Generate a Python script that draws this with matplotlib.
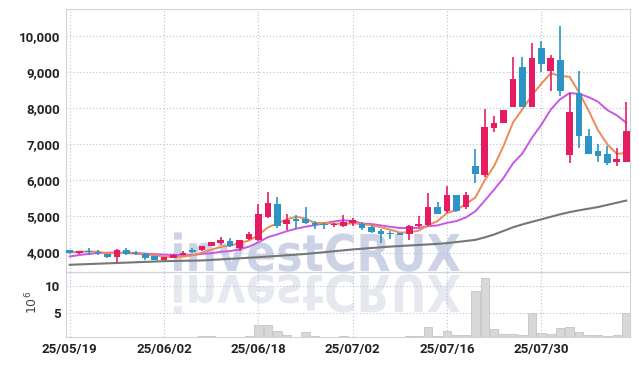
import matplotlib
matplotlib.use("Agg")
import matplotlib.pyplot as plt
import matplotlib.transforms as mtransforms
from matplotlib.font_manager import FontProperties
from matplotlib.patches import PathPatch
from matplotlib.textpath import TextPath
from matplotlib.ticker import FuncFormatter

# daily candles, 25/05/19 .. 25/08/12 (60 trading days)
opens = [4060, 3980, 4040, 4010, 3950, 3870, 4080, 4000, 3960, 3890,
         3800, 3850, 3940, 4075, 4075, 4190, 4270, 4320, 4120, 4380,
         4360, 4990, 5340, 4780, 4920, 4920, 4830, 4800, 4750, 4740,
         4820, 4800, 4710, 4600, 4540, 4530, 4520, 4740, 4760, 5270,
         5150, 5600, 5250, 6390, 6140, 7440, 7590, 8030, 9130, 8030,
         9660, 9030, 9350, 6690, 8430, 7230, 6810, 6720, 6500, 6500]
highs = [4080, 4050, 4130, 4060, 3970, 4100, 4130, 4040, 3980, 3900,
         3880, 3960, 4030, 4120, 4180, 4300, 4420, 4390, 4360, 4560,
         5350, 5690, 5530, 5065, 5050, 5270, 4870, 4830, 4830, 5040,
         4960, 4840, 4760, 4660, 4610, 4540, 4750, 5010, 5640, 5390,
         5830, 5600, 5690, 6860, 7980, 7780, 7960, 9430, 9430, 9800,
         9870, 9470, 10270, 8430, 9030, 7420, 7020, 6960, 6900, 8170]
lows = [3970, 3960, 3920, 3930, 3860, 3730, 3920, 3930, 3800, 3780,
        3790, 3840, 3920, 4000, 4050, 4170, 4200, 4140, 4040, 4360,
        4330, 4960, 4680, 4620, 4650, 4780, 4650, 4640, 4700, 4720,
        4740, 4620, 4530, 4260, 4380, 4480, 4360, 4720, 4740, 5060,
        5100, 5120, 5200, 5930, 6100, 7330, 7590, 8030, 8030, 8030,
        9010, 8490, 8340, 6490, 6910, 6720, 6500, 6420, 6400, 6500]
closes = [3990, 4030, 4020, 3980, 3870, 4080, 3960, 3960, 3840, 3800,
          3870, 3940, 3980, 4010, 4170, 4280, 4340, 4170, 4340, 4520,
          5065, 5380, 4730, 4900, 4880, 4820, 4760, 4750, 4790, 4850,
          4890, 4680, 4570, 4520, 4500, 4490, 4730, 4790, 5270, 5080,
          5600, 5160, 5600, 6190, 7470, 7590, 7960, 8820, 8030, 9380,
          9220, 9380, 8470, 7890, 7230, 6720, 6670, 6470, 6580, 7360]
# volume in millions of shares
volumes = [0.3, 0.3, 0.3, 0.3, 0.3, 0.4, 0.3, 0.3, 0.3, 0.3,
           0.3, 0.3, 0.3, 0.3, 0.6, 0.6, 0.4, 0.4, 0.5, 0.6,
           2.7, 2.7, 1.55, 0.8, 0.5, 1.3, 0.6, 0.5, 0.45, 0.6,
           0.45, 0.45, 0.4, 0.45, 0.4, 0.4, 0.7, 0.7, 2.25, 0.6,
           1.6, 0.8, 0.8, 9.05, 11.4, 1.9, 1.0, 1.0, 0.8, 4.9,
           1.1, 1.0, 2.05, 2.25, 1.3, 0.8, 0.8, 0.65, 0.8, 4.9]
# moving averages
ma5 = [4010, 4020, 4030, 4020, 3978, 3996, 3982, 3970, 3942, 3928,
       3886, 3882, 3886, 3920, 3994, 4076, 4156, 4194, 4260, 4330,
       4487, 4695, 4807, 4919, 4991, 4942, 4818, 4822, 4800, 4794,
       4808, 4792, 4756, 4702, 4632, 4552, 4562, 4606, 4756, 4872,
       5094, 5180, 5342, 5526, 6004, 6402, 6962, 7606, 7974, 8356,
       8682, 8966, 8896, 8868, 8438, 7938, 7396, 6996, 6734, 6760]
ma10 = [3890, 3930, 3960, 3985, 3995, 4000, 3995, 3985, 3970, 3953,
        3941, 3932, 3928, 3931, 3961, 3981, 4019, 4040, 4090, 4162,
        4282, 4426, 4501, 4590, 4661, 4715, 4757, 4815, 4860, 4893,
        4875, 4805, 4789, 4751, 4713, 4680, 4677, 4681, 4729, 4752,
        4823, 4871, 4974, 5141, 5438, 5748, 6071, 6474, 6750, 7180,
        7542, 7964, 8251, 8421, 8397, 8310, 8181, 7947, 7802, 7599]
ma60 = [3660, 3670, 3680, 3690, 3700, 3710, 3720, 3730, 3740, 3750,
        3760, 3765, 3770, 3775, 3780, 3795, 3810, 3825, 3840, 3855,
        3870, 3888, 3906, 3924, 3942, 3960, 3985, 4010, 4035, 4060,
        4085, 4105, 4125, 4145, 4165, 4180, 4195, 4210, 4225, 4240,
        4260, 4290, 4320, 4350, 4420, 4500, 4600, 4700, 4780, 4850,
        4920, 4990, 5060, 5120, 5170, 5215, 5260, 5320, 5380, 5440]
date_ticks = ["25/05/19", "25/06/02", "25/06/18", "25/07/02", "25/07/16", "25/07/30"]

UP = "#e51c64"
DOWN = "#2d94c6"
GRID = "#b9c1d9"
SPINE = "#cfd2d8"
TICK_FONT = dict(family=["Roboto", "DejaVu Sans"], weight="bold", size=9.5)

W, H = 639, 366
fig = plt.figure(figsize=(W / 100, H / 100), dpi=100)
ax = fig.add_axes([66 / W, 1 - 272 / H, 564 / W, 263 / H])
axv = fig.add_axes([66 / W, 1 - 337 / H, 564 / W, 65 / H], sharex=ax)
for a in (ax, axv):
    a.set_facecolor("none")
    for sp in a.spines.values():
        sp.set_color(SPINE)
    a.grid(True, linestyle=(0, (1, 2)), color=GRID, linewidth=0.8)
    a.tick_params(length=0, colors="#222222", pad=4)
    a.set_axisbelow(True)

# watermark with its reflection, behind both panels
fp = FontProperties(family="DejaVu Sans", weight="bold")
tp = TextPath((0, 0), "investCRUX", size=100, prop=fp)
ext = tp.get_extents()
sx = 286 / ext.width
sy = 37 / 72.9
px = mtransforms.Affine2D().scale(1 / fig.dpi) + fig.dpi_scale_trans
top = mtransforms.Affine2D().translate(-ext.x0, 0).scale(sx, sy).translate(174, H - 271)
bot = mtransforms.Affine2D().translate(-ext.x0, 0).scale(sx, -sy).translate(174, H - 275)
fig.patches.append(PathPatch(tp, transform=top + px, facecolor="#cdd3e6", edgecolor="none", zorder=-1))
fig.patches.append(PathPatch(tp, transform=bot + px, facecolor="#e6e8f0", edgecolor="none", zorder=-1))

x = list(range(len(closes)))
colors = [UP if c >= o else DOWN for o, c in zip(opens, closes)]
bottoms = [min(o, c) for o, c in zip(opens, closes)]
heights = [max(abs(c - o), 30) for o, c in zip(opens, closes)]

ax.plot(x, ma60, color="#767676", lw=1.5, zorder=2)
ax.plot(x, ma10, color="#c857e8", lw=1.4, zorder=2)
ax.plot(x, ma5, color="#ef8a52", lw=1.4, zorder=2)
ax.vlines(x, lows, highs, colors=colors, lw=1.2, zorder=3)
ax.bar(x, heights, bottom=bottoms, width=0.7, color=colors, zorder=4)

axv.bar(x, volumes, width=0.9, color="#d8d8d8", edgecolor="#c4c4c4", linewidth=0.6, zorder=2)

ax.set_xlim(-0.4, 59.4)
ax.set_ylim(3460, 10750)
ax.set_yticks([4000, 5000, 6000, 7000, 8000, 9000, 10000])
ax.yaxis.set_major_formatter(FuncFormatter(lambda v, p: f"{int(v):,}"))
ax.tick_params(labelbottom=False)

axv.set_ylim(0.44, 12.6)
axv.set_yticks([5, 10])
axv.set_xticks(range(0, 60, 10))
axv.set_xticklabels(date_ticks)
for a in (ax, axv):
    for lab in a.get_xticklabels() + a.get_yticklabels():
        lab.set(**TICK_FONT)

fig.text(32 / W, 1 - 302 / H, r"$10^{6}$", rotation=90, ha="center", va="center",
         fontsize=9, color="#444444")

fig.savefig("out.png", dpi=100)
